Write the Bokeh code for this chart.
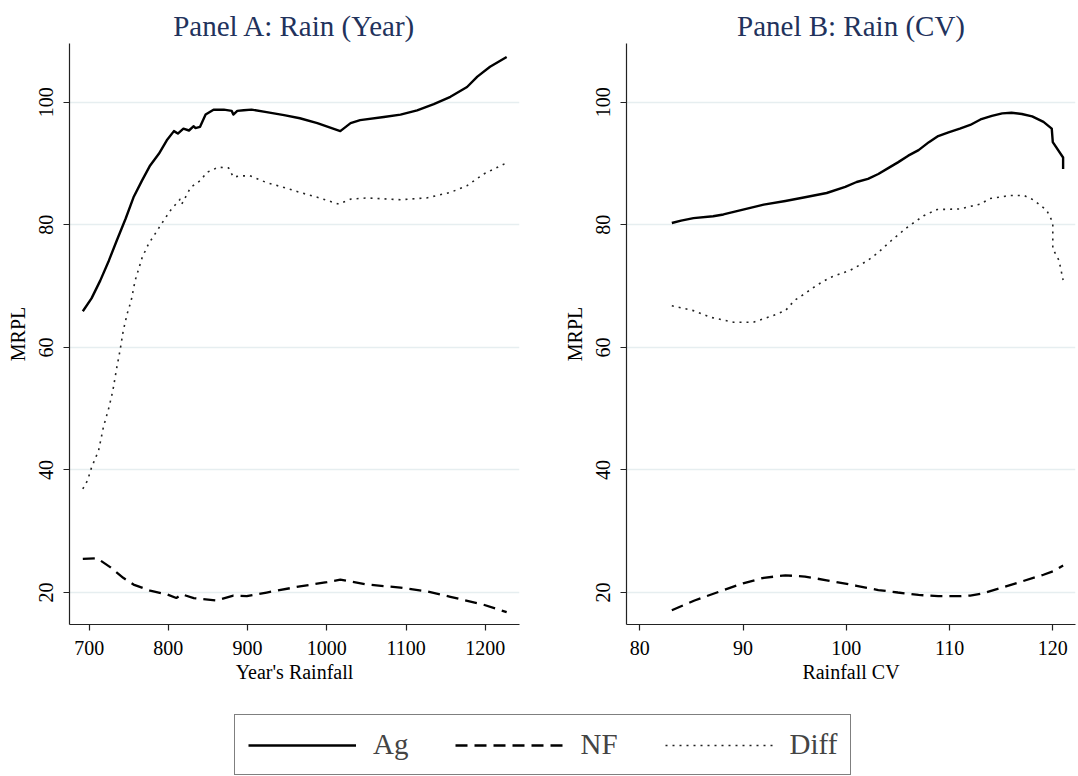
import math
from bokeh.plotting import figure
from bokeh.layouts import column, row
from bokeh.models import Legend, LegendItem, FixedTicker, Range1d
from bokeh.embed import file_html
from bokeh.resources import INLINE

# ---------------- data ----------------
# Panel A: Rain (Year)
year_ag_x = [692, 703, 714, 725, 735, 746, 756, 767, 777, 788, 798, 807, 812, 819, 826, 832, 834, 840, 847, 857,
             870, 880, 882, 887, 895, 905, 924, 946, 966, 988, 1017, 1030, 1042, 1072, 1093, 1114, 1135, 1156, 1177, 1190,
             1206, 1227]
year_ag = [65.9, 68.0, 70.9, 74.2, 77.5, 81.0, 84.5, 87.3, 89.7, 91.6, 93.8, 95.3, 94.9, 95.7, 95.4, 96.1, 95.8, 96.0, 98.0, 98.8,
           98.8, 98.6, 98.0, 98.6, 98.7, 98.8, 98.4, 97.9, 97.4, 96.6, 95.3, 96.6, 97.1, 97.6, 98.0, 98.7, 99.7, 100.9, 102.5, 104.2,
           105.8, 107.4]

year_nf_x = [692, 710, 727, 743, 756, 777, 798, 810, 817, 832, 861, 882, 899, 924, 966, 1000, 1017, 1051, 1093, 1126, 1156, 1198, 1227]
year_nf = [25.5, 25.6, 24.1, 22.4, 21.3, 20.3, 19.7, 19.1, 19.7, 19.1, 18.7, 19.5, 19.4, 20.0, 21.0, 21.7, 22.1, 21.3, 20.8, 20.2, 19.3, 18.0, 16.8]

year_diff_x = [692, 698, 703, 712, 718, 725, 730, 735, 739, 743, 748, 753, 758, 767, 775, 783, 794, 804, 815, 817,
               828, 840, 849, 863, 876, 882, 891, 903, 924, 946, 966, 988, 1015, 1030, 1051, 1093, 1126, 1156, 1177, 1198,
               1225]
year_diff = [36.9, 38.3, 40.4, 43.2, 47.0, 50.2, 53.0, 56.8, 59.5, 62.7, 65.5, 67.6, 70.9, 74.7, 76.9, 78.5, 80.7, 82.6, 84.2, 83.4,
             86.1, 87.2, 88.6, 89.4, 89.3, 87.8, 88.0, 88.0, 86.9, 86.1, 85.3, 84.5, 83.4, 84.2, 84.4, 84.1, 84.4, 85.3, 86.4, 88.3,
             90.0]

# Panel B: Rain (CV)
cv_ag_x = [83.1, 84.0, 85.2, 87.1, 88.1, 90.0, 92.0, 94.1, 96.0, 98.1, 99.9, 101.0, 102.1, 103.1, 104.1, 105.0, 106.0, 107.0,
           108.0, 108.9, 109.9, 111.0, 112.0, 113.0, 114.1, 115.1, 116.0, 117.0, 118.0, 119.1, 119.9, 120.0, 121.0, 121.0]
cv_ag = [80.3, 80.7, 81.1, 81.4, 81.7, 82.5, 83.3, 83.9, 84.5, 85.2, 86.2, 87.0, 87.5, 88.3, 89.3, 90.2, 91.3, 92.2,
         93.5, 94.5, 95.1, 95.7, 96.3, 97.2, 97.8, 98.2, 98.3, 98.1, 97.7, 96.8, 95.7, 93.5, 91.0, 89.1]

cv_nf_x = [83.1, 85.3, 87.8, 90.0, 92.0, 94.1, 96.0, 98.1, 101.0, 103.1, 105.0, 107.0, 108.9, 111.0, 112.0, 113.1, 115.1, 117.0, 119.1, 120.1, 121.0]
cv_nf = [17.1, 18.7, 20.2, 21.5, 22.4, 22.8, 22.6, 22.0, 21.1, 20.4, 20.0, 19.6, 19.4, 19.4, 19.5, 19.8, 20.8, 21.8, 22.9, 23.5, 24.4]

cv_diff_x = [83.1, 85.2, 86.9, 89.1, 91.0, 92.9, 94.1, 95.0, 96.0, 97.1, 98.4, 100.4, 102.0, 103.1, 104.2, 105.9, 107.5, 108.8,
             111.0, 113.0, 113.9, 115.9, 117.2, 118.1, 119.4, 120.0, 120.0, 120.6, 121.0]
cv_diff = [66.8, 66.0, 64.9, 64.1, 64.1, 65.2, 66.0, 67.7, 68.8, 70.1, 71.4, 72.6, 74.1, 75.5, 77.2, 79.6, 81.5, 82.5,
           82.6, 83.4, 84.3, 84.8, 84.8, 84.1, 82.4, 80.4, 76.1, 74.2, 71.0]

y_ticks = [20, 40, 60, 80, 100]
year_ticks = [700, 800, 900, 1000, 1100, 1200]
cv_ticks = [80, 90, 100, 110, 120]
series_names = ["Ag", "NF", "Diff"]

# ---------------- styles ----------------
FONT = "Liberation Serif"
TITLE_COLOR = "#22325c"
GRID = "#e6eef0"
AXIS = "#222222"
STYLES = {
    "Ag": dict(line_color="black", line_width=2.4, line_join="round"),
    "NF": dict(line_color="black", line_width=2.3, line_dash="12 7"),
    "Diff": dict(line_color="#222222", line_width=1.6, line_dash="2 5"),
}


def make_panel(title, xlabel, xr, xticks, width, left, right, data):
    p = figure(width=width, height=690, x_range=Range1d(*xr), y_range=Range1d(14.78, 109.6),
               output_backend="svg", toolbar_location=None,
               min_border_left=left, min_border_right=right, min_border_top=43, min_border_bottom=66)
    p.title.text = title
    p.title.align = "center"
    p.title.text_font = FONT
    p.title.text_font_size = "29px"
    p.title.text_font_style = "normal"
    p.title.text_color = TITLE_COLOR
    p.title.standoff = 4
    p.outline_line_color = None
    p.background_fill_color = "white"
    p.border_fill_color = "white"

    p.xgrid.visible = False
    p.ygrid.ticker = FixedTicker(ticks=y_ticks)
    p.ygrid.grid_line_color = GRID
    p.ygrid.grid_line_width = 1.5

    p.xaxis.ticker = FixedTicker(ticks=xticks)
    p.yaxis.ticker = FixedTicker(ticks=y_ticks)
    p.xaxis.axis_label = xlabel
    p.yaxis.axis_label = "MRPL"
    p.yaxis.major_label_orientation = "vertical"
    for ax in (p.xaxis[0], p.yaxis[0]):
        ax.axis_line_color = AXIS
        ax.axis_line_width = 1.2
        ax.major_tick_line_color = AXIS
        ax.major_tick_line_width = 1.2
        ax.major_tick_out = 6
        ax.major_tick_in = 0
        ax.minor_tick_line_color = None
        ax.major_label_text_font = FONT
        ax.major_label_text_font_size = "20px"
        ax.major_label_text_color = "black"
        ax.axis_label_text_font = FONT
        ax.axis_label_text_font_size = "20px"
        ax.axis_label_text_font_style = "normal"
        ax.axis_label_text_color = "black"
    p.xaxis.major_label_standoff = 10
    p.xaxis.axis_label_standoff = 3
    p.yaxis.major_label_standoff = 10
    p.yaxis.axis_label_standoff = 8

    for name, (xs, ys) in zip(series_names, data):
        p.line(x=xs, y=ys, **STYLES[name])
    return p


pA = make_panel("Panel A: Rain (Year)", "Year's Rainfall", (675.2, 1243.2), year_ticks, 540, 69, 21,
                [(year_ag_x, year_ag), (year_nf_x, year_nf), (year_diff_x, year_diff)])
pB = make_panel("Panel B: Rain (CV)", "Rainfall CV", (78.71, 122.2), cv_ticks, 538, 86, 3,
                [(cv_ag_x, cv_ag), (cv_nf_x, cv_nf), (cv_diff_x, cv_diff)])

# legend panel
pl = figure(width=1078, height=86, output_backend="svg", toolbar_location=None,
            x_range=Range1d(0, 1), y_range=Range1d(0, 1),
            x_axis_location=None, y_axis_location=None, min_border=0)
pl.grid.visible = False
pl.outline_line_color = None
items = []
for name in series_names:
    r = pl.line(x=[math.nan], y=[math.nan], **STYLES[name])
    items.append(LegendItem(label=name, renderers=[r]))
leg = Legend(items=items, orientation="horizontal", location=(234, 1),
             glyph_width=108, glyph_height=30, label_standoff=17, spacing=47, padding=13, margin=0,
             label_text_font=FONT, label_text_font_size="29px", label_height=30,
             border_line_color="black", border_line_width=1.5, background_fill_color="white",
             background_fill_alpha=1.0)
pl.add_layout(leg)

layout = column(row(pA, pB), pl)
open("out.html", "w").write(file_html(layout, INLINE))
